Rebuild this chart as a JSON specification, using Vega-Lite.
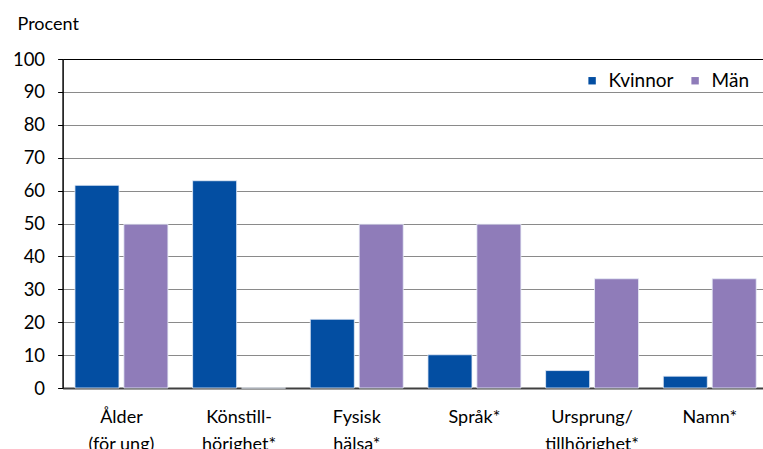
{
  "$schema": "https://vega.github.io/schema/vega-lite/v6.json",
  "autosize": "none",
  "width": 700,
  "height": 329,
  "padding": {"left": 62.6, "top": 59, "right": 0.4, "bottom": 61},
  "background": "white",
  "config": {
    "font": "Lato",
    "view": {"stroke": null}
  },
  "data": {
    "values": [
      {"kategori": "Ålder|(för ung)", "kon": "Kvinnor", "procent": 61.6},
      {"kategori": "Ålder|(för ung)", "kon": "Män", "procent": 49.8},
      {"kategori": "Könstill-|hörighet*", "kon": "Kvinnor", "procent": 63.0},
      {"kategori": "Könstill-|hörighet*", "kon": "Män", "procent": 0},
      {"kategori": "Fysisk|hälsa*", "kon": "Kvinnor", "procent": 20.9},
      {"kategori": "Fysisk|hälsa*", "kon": "Män", "procent": 49.8},
      {"kategori": "Språk*", "kon": "Kvinnor", "procent": 10.1},
      {"kategori": "Språk*", "kon": "Män", "procent": 49.8},
      {"kategori": "Ursprung/|tillhörighet*", "kon": "Kvinnor", "procent": 5.3},
      {"kategori": "Ursprung/|tillhörighet*", "kon": "Män", "procent": 33.2},
      {"kategori": "Namn*", "kon": "Kvinnor", "procent": 3.6},
      {"kategori": "Namn*", "kon": "Män", "procent": 33.2}
    ]
  },
  "mark": {"type": "bar", "stroke": "#e8eef8", "strokeWidth": 0.8},
  "encoding": {
    "x": {
      "field": "kategori",
      "type": "nominal",
      "sort": null,
      "scale": {"range": [0, 706], "paddingInner": 0.21, "paddingOuter": 0.105},
      "axis": {
        "title": null,
        "labelAngle": 0,
        "labelExpr": "split(datum.label, '|')",
        "labelFont": "Lato",
        "labelFontSize": 18,
        "labelColor": "#000000",
        "labelLineHeight": 27,
        "labelPadding": 20,
        "labelBaseline": "top",
        "ticks": false,
        "domainColor": "#404040",
        "domainWidth": 2,
        "grid": false
      }
    },
    "xOffset": {
      "field": "kon",
      "type": "nominal",
      "scale": {"paddingInner": 0.1, "paddingOuter": 0}
    },
    "y": {
      "field": "procent",
      "type": "quantitative",
      "scale": {"domain": [0, 100], "nice": false},
      "axis": {
        "values": [0, 10, 20, 30, 40, 50, 60, 70, 80, 90, 100],
        "title": "Procent",
        "titleAngle": 0,
        "titleAlign": "left",
        "titleBaseline": "alphabetic",
        "titleX": -45.6,
        "titleY": -30,
        "titleFont": "Lato",
        "titleFontSize": 18,
        "titleFontWeight": "normal",
        "titleColor": "#000000",
        "labelFont": "Lato",
        "labelFontSize": 18.5,
        "labelColor": "#000000",
        "labelPadding": 13,
        "tickSize": 5,
        "tickColor": "#000000",
        "domainColor": "#000000",
        "domainWidth": 1.5,
        "grid": true,
        "gridColor": {"condition": {"test": "datum.value === 100", "value": "#000000"}, "value": "#8a8a8a"},
        "gridWidth": 1.2
      }
    },
    "color": {
      "field": "kon",
      "type": "nominal",
      "scale": {"domain": ["Kvinnor", "Män"], "range": ["#034ea2", "#8f7cb9"]},
      "legend": {
        "title": null,
        "orient": "none",
        "legendX": 520,
        "legendY": 12,
        "direction": "horizontal",
        "symbolType": "square",
        "symbolSize": 55,
        "symbolStrokeWidth": 0,
        "labelFont": "Lato",
        "labelFontSize": 19,
        "labelColor": "#000000",
        "labelOffset": 7,
        "columnPadding": 12
      }
    }
  }
}
